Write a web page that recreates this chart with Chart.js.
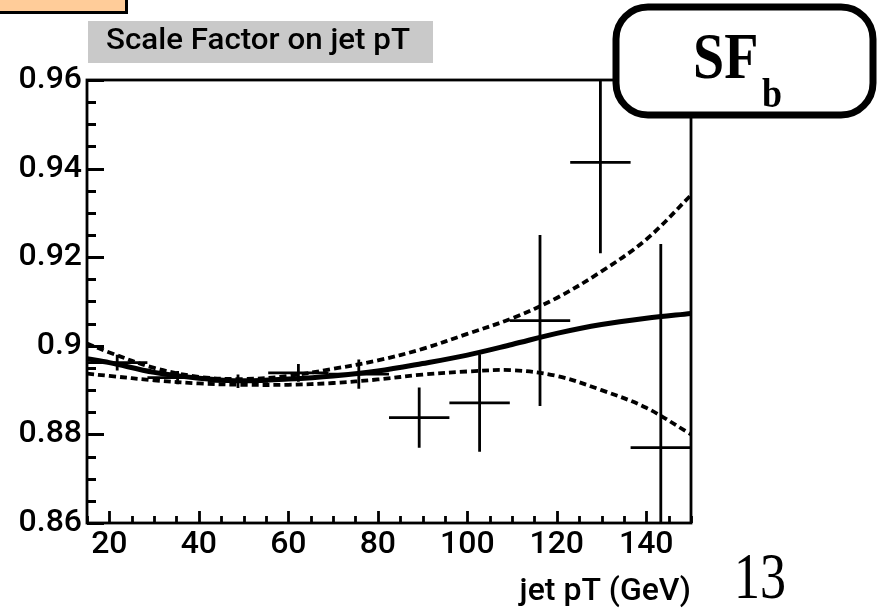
<!DOCTYPE html>
<html lang="en">
<head>
  <meta charset="UTF-8">
  <title>Scale Factor on jet pT</title>
  <script src="https://cdn.jsdelivr.net/npm/chart.js"></script>
  <style>
    body { margin: 0; background: #fff; }
    #wrap { width: 880px; height: 612px; }
  </style>
</head>
<body>
  <div id="wrap"><canvas id="sfChart" width="880" height="612"></canvas></div>

  <script>
    // fit curve and its error band, every 10 GeV
    const fitPt      = [15, 20, 30, 40, 50, 60, 70, 80, 90, 100, 110, 120, 130, 140, 150];
    const fitCentral = [0.8971, 0.8962, 0.8940, 0.8927, 0.8921, 0.8925, 0.8932, 0.8943, 0.8960, 0.8979, 0.9003, 0.9028, 0.9048, 0.9062, 0.9073];
    const fitUpper   = [0.9005, 0.8985, 0.8950, 0.8930, 0.8925, 0.8932, 0.8948, 0.8967, 0.8993, 0.9027, 0.9062, 0.9108, 0.9168, 0.9240, 0.9340];
    const fitLower   = [0.8937, 0.8932, 0.8922, 0.8915, 0.8912, 0.8912, 0.8916, 0.8924, 0.8935, 0.8942, 0.8945, 0.8932, 0.8900, 0.8860, 0.8800];

    // measured scale factors, bins of 13.5 GeV between 15 and 150
    const binPt    = [21.75, 35.25, 48.75, 62.25, 75.75, 89.25, 102.75, 116.25, 129.75, 143.25];
    const binHalf  = [6.75, 6.75, 6.75, 6.75, 6.75, 6.75, 6.75, 6.75, 6.75, 6.75];
    const sfValue  = [0.8962, 0.8928, 0.8920, 0.8939, 0.8936, 0.8838, 0.8871, 0.9057, 0.9414, 0.8770];
    const sfError  = [0.0018, 0.0015, 0.0015, 0.0020, 0.0033, 0.0068, 0.0110, 0.0193, 0.0205, 0.0460];

    const xTickLabels = [20, 40, 60, 80, 100, 120, 140];
    const yTickLabels = [0.86, 0.88, 0.9, 0.92, 0.94, 0.96];

    const SANS = 'Roboto, "Liberation Sans", Arial, sans-serif';
    const SERIF = '"Liberation Serif", "Times New Roman", serif';

    function pairs(xs, ys) {
      return xs.map((x, i) => ({ x: x, y: ys[i] }));
    }

    // error bars, frame and the inward ROOT style ticks
    const frameTicks = {
      id: 'frameTicks',
      afterDatasetsDraw(chart) {
        const { ctx, chartArea: a, scales: { x, y } } = chart;
        ctx.save();
        ctx.beginPath();
        ctx.rect(a.left, a.top, a.right - a.left, a.bottom - a.top);
        ctx.clip();
        ctx.strokeStyle = '#000';
        ctx.lineWidth = 2.8;
        binPt.forEach((pt, i) => {
          const px = x.getPixelForValue(pt);
          const py = y.getPixelForValue(sfValue[i]);
          ctx.beginPath();
          ctx.moveTo(x.getPixelForValue(pt - binHalf[i]), py);
          ctx.lineTo(x.getPixelForValue(pt + binHalf[i]), py);
          ctx.moveTo(px, y.getPixelForValue(sfValue[i] - sfError[i]));
          ctx.lineTo(px, y.getPixelForValue(sfValue[i] + sfError[i]));
          ctx.stroke();
        });
        ctx.restore();

        ctx.save();
        ctx.strokeStyle = '#000';
        ctx.lineWidth = 2.8;
        ctx.strokeRect(a.left, a.top, a.right - a.left, a.bottom - a.top);

        // y ticks every 0.005, longer at labelled values
        ctx.beginPath();
        for (let k = 0; k <= 20; k++) {
          const v = 0.86 + k * 0.005;
          const py = Math.round(y.getPixelForValue(v)) + 0.5;
          const major = k % 4 === 0;
          ctx.moveTo(a.left, py);
          ctx.lineTo(a.left + (major ? 17 : 9), py);
        }
        // x ticks every 5 GeV, longer at labelled values
        for (let v = 15; v <= 150; v += 5) {
          const px = Math.round(x.getPixelForValue(v)) + 0.5;
          const major = v % 20 === 0;
          ctx.moveTo(px, a.bottom);
          ctx.lineTo(px, a.bottom - (major ? 12 : 7));
        }
        ctx.stroke();
        ctx.restore();
      }
    };

    // slide decorations: header tab, title box, SF_b box, page number
    const decor = {
      id: 'decor',
      afterDraw(chart) {
        const ctx = chart.ctx;
        ctx.save();

        // header tab cut off at the top
        ctx.fillStyle = '#ffcc99';
        ctx.fillRect(0, 0, 126, 12);
        ctx.strokeStyle = '#000';
        ctx.lineWidth = 3;
        ctx.beginPath();
        ctx.moveTo(0, 12.5);
        ctx.lineTo(126.5, 12.5);
        ctx.lineTo(126.5, 0);
        ctx.stroke();

        // title box
        ctx.fillStyle = '#c9c9c9';
        ctx.fillRect(88, 21, 345, 42);
        ctx.fillStyle = '#000';
        ctx.font = '500 30px ' + SANS;
        ctx.textBaseline = 'alphabetic';
        const t = 'Scale Factor on jet pT';
        const sx = 304 / ctx.measureText(t).width;
        ctx.save();
        ctx.translate(106, 49);
        ctx.scale(sx, 1);
        ctx.fillText(t, 0, 0);
        ctx.restore();

        // SF_b box
        ctx.fillStyle = '#fff';
        ctx.strokeStyle = '#000';
        ctx.lineWidth = 7;
        ctx.beginPath();
        ctx.roundRect(616, 7, 257, 108, 32);
        ctx.fill();
        ctx.stroke();
        ctx.fillStyle = '#000';
        ctx.save();
        ctx.translate(693, 78);
        ctx.scale(1, 1.16);
        ctx.font = 'bold 56px ' + SERIF;
        ctx.fillText('SF', 0, 0);
        ctx.restore();
        ctx.save();
        ctx.translate(762, 107);
        ctx.scale(1, 1.16);
        ctx.font = 'bold 36px ' + SERIF;
        ctx.fillText('b', 0, 0);
        ctx.restore();

        // page number
        ctx.save();
        ctx.translate(734, 598);
        ctx.scale(1, 1.28);
        ctx.font = '52px ' + SERIF;
        ctx.fillText('13', 0, 0);
        ctx.restore();

        ctx.restore();
      }
    };

    const ctx = document.getElementById('sfChart').getContext('2d');
    const sfChart = new Chart(ctx, {
      type: 'scatter',
      data: {
        datasets: [
          {
            label: 'fit',
            data: pairs(fitPt, fitCentral),
            showLine: true,
            borderColor: '#000',
            borderWidth: 5,
            pointRadius: 0,
            tension: 0.35
          },
          {
            label: 'fit + 1 sigma',
            data: pairs(fitPt, fitUpper),
            showLine: true,
            borderColor: '#000',
            borderWidth: 3.8,
            borderDash: [7, 4],
            pointRadius: 0,
            tension: 0.35
          },
          {
            label: 'fit - 1 sigma',
            data: pairs(fitPt, fitLower),
            showLine: true,
            borderColor: '#000',
            borderWidth: 3.8,
            borderDash: [7, 4],
            pointRadius: 0,
            tension: 0.35
          }
        ]
      },
      options: {
        responsive: false,
        animation: false,
        layout: { padding: { left: 0, top: 80, right: 189, bottom: 0 } },
        plugins: {
          legend: { display: false },
          tooltip: { enabled: false }
        },
        scales: {
          x: {
            type: 'linear',
            min: 15,
            max: 150,
            grid: { display: false, drawTicks: false },
            border: { display: false },
            afterBuildTicks: s => { s.ticks = xTickLabels.map(v => ({ value: v })); },
            afterFit: s => { s.height = 89; },
            ticks: {
              color: '#000',
              padding: 3,
              maxRotation: 0,
              font: { family: SANS, size: 32, weight: 500 },
              callback: v => String(v)
            },
            title: {
              display: true,
              text: 'jet pT (GeV)',
              align: 'end',
              color: '#000',
              font: { family: SANS, size: 32, weight: 500 },
              padding: { top: 0, bottom: 1 }
            }
          },
          y: {
            type: 'linear',
            min: 0.86,
            max: 0.96,
            grid: { display: false, drawTicks: false },
            border: { display: false },
            afterBuildTicks: s => { s.ticks = yTickLabels.map(v => ({ value: v })); },
            afterFit: s => { s.width = 87; },
            ticks: {
              color: '#000',
              padding: 5,
              font: { family: SANS, size: 32, weight: 500 },
              callback: v => String(v)
            }
          }
        }
      },
      plugins: [frameTicks, decor]
    });
  </script>
</body>
</html>
